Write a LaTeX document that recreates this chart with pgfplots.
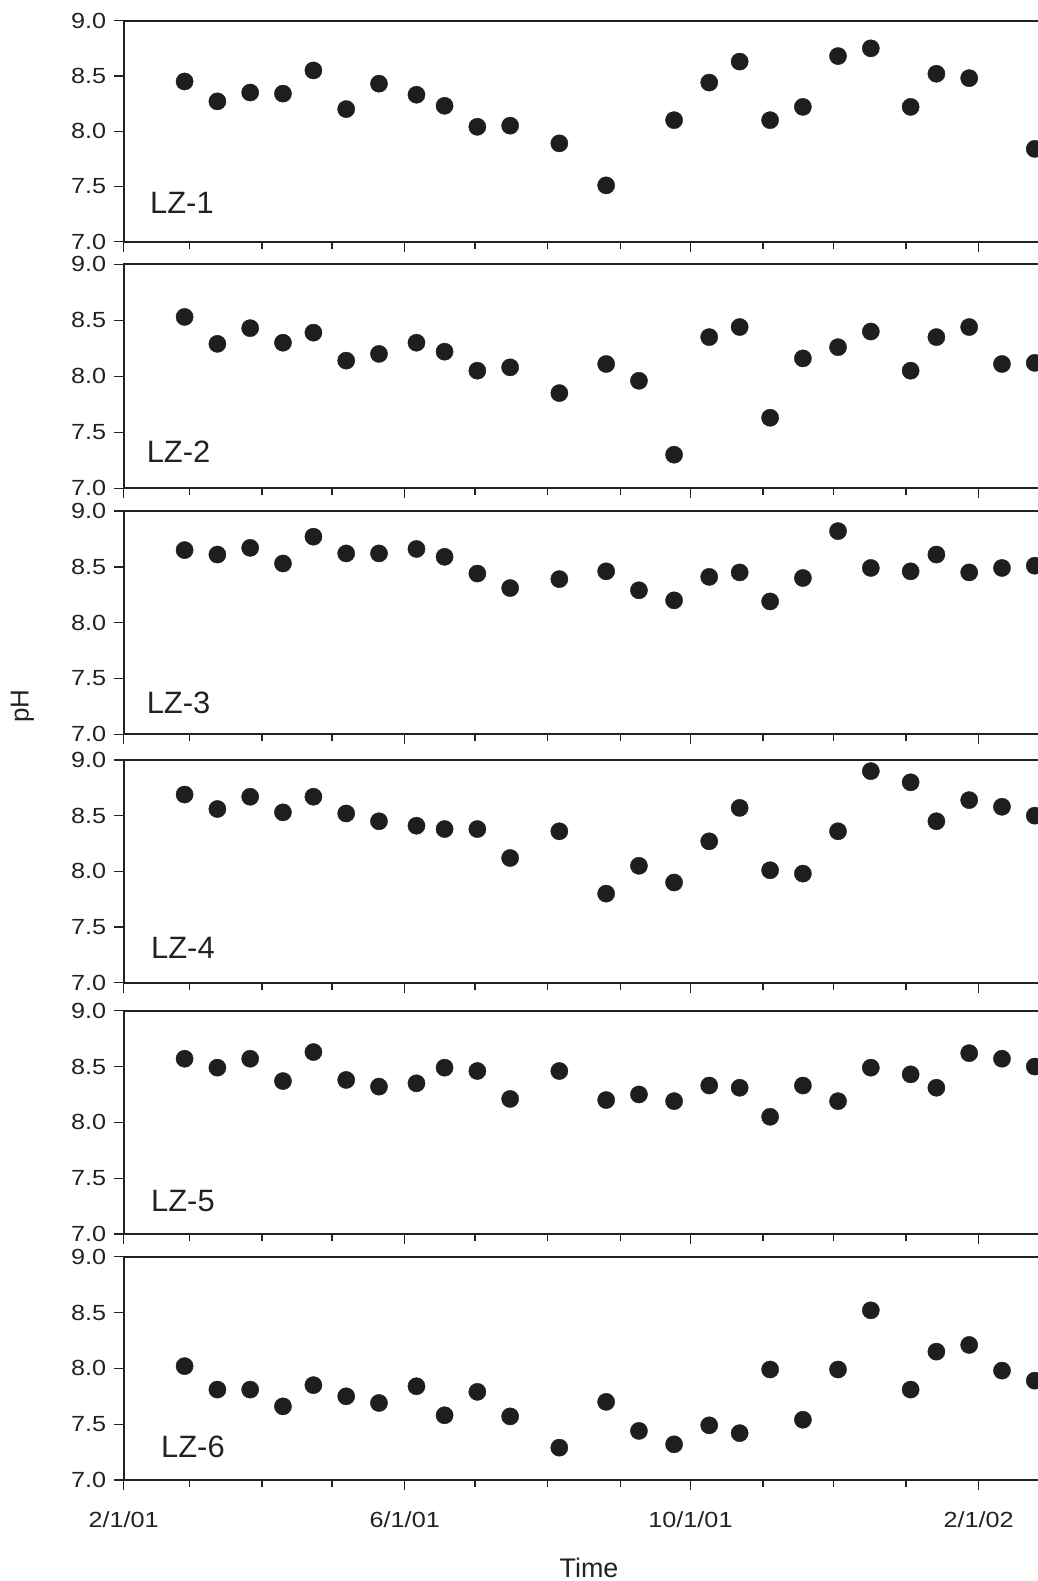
\documentclass[border=0pt]{standalone}
\usepackage{fontspec}
\setmainfont{Liberation Sans}
\newfontfamily\tickfont[FakeStretch=1.15]{Liberation Sans}
\usepackage{pgfplots}
\usepackage{pgfplotstable}
\pgfplotsset{compat=1.18}

% pH at the six sites; day = days since 2/1/01
\pgfplotstableread{
day lz1 lz2 lz3 lz4 lz5 lz6
26  8.45 8.53 8.65 8.69 8.57 8.02
40  8.27 8.29 8.61 8.56 8.49 7.81
54  8.35 8.43 8.67 8.67 8.57 7.81
68  8.34 8.30 8.53 8.53 8.37 7.66
81  8.55 8.39 8.77 8.67 8.63 7.85
95  8.20 8.14 8.62 8.52 8.38 7.75
109 8.43 8.20 8.62 8.45 8.32 7.69
125 8.33 8.30 8.66 8.41 8.35 7.84
137 8.23 8.22 8.59 8.38 8.49 7.58
151 8.04 8.05 8.44 8.38 8.46 7.79
165 8.05 8.08 8.31 8.12 8.21 7.57
186 7.89 7.85 8.39 8.36 8.46 7.29
206 7.51 8.11 8.46 7.80 8.20 7.70
220 nan  7.96 8.29 8.05 8.25 7.44
235 8.10 7.30 8.20 7.90 8.19 7.32
250 8.44 8.35 8.41 8.27 8.33 7.49
263 8.63 8.44 8.45 8.57 8.31 7.42
276 8.10 7.63 8.19 8.01 8.05 7.99
290 8.22 8.16 8.40 7.98 8.33 7.54
305 8.68 8.26 8.82 8.36 8.19 7.99
319 8.75 8.40 8.49 8.90 8.49 8.52
336 8.22 8.05 8.46 8.80 8.43 7.81
347 8.52 8.35 8.61 8.45 8.31 8.15
361 8.48 8.44 8.45 8.64 8.62 8.21
375 nan  8.11 8.49 8.58 8.57 7.98
389 7.84 8.12 8.51 8.50 8.50 7.89
}\phdata

\definecolor{dotcol}{HTML}{1E1E1E}
\definecolor{axcol}{HTML}{222222}

\pgfplotsset{
  panel/.style={
    scale only axis, anchor=south west, width=925.1bp,
    xmin=0, xmax=395, ymin=7, ymax=9,
    axis line style={line width=1.8bp, axcol},
    tick style={line width=1.4bp, axcol},
    tick align=outside, tick pos=left,
    major tick length=10bp, minor tick length=7bp,
    xtick={0,120,242,365},
    minor xtick={28,59,89,150,181,212,273,303,334},
    xticklabels={},
    ytick={7,7.5,8,8.5,9},
    yticklabels={7.0,7.5,8.0,8.5,9.0},
    ticklabel style={font=\tickfont\fontsize{22}{22}\selectfont, text=axcol},
    yticklabel style={xshift=-4bp},
  },
  phpts/.style={only marks, mark=*, mark size=8.6bp, color=dotcol,
    mark options={solid, draw=dotcol, fill=dotcol}},
}

\begin{document}
\begin{tikzpicture}[x=1bp,y=1bp]
\path[use as bounding box] (0,0) rectangle (1037,-1581);

\begin{axis}[panel, at={(123.7bp,-241.7bp)}, height=221bp]
\addplot[phpts] table[x=day, y=lz1]{\phdata};
\end{axis}
\begin{axis}[panel, at={(123.7bp,-488.3bp)}, height=224bp]
\addplot[phpts] table[x=day, y=lz2]{\phdata};
\end{axis}
\begin{axis}[panel, at={(123.7bp,-734.3bp)}, height=223.3bp]
\addplot[phpts] table[x=day, y=lz3]{\phdata};
\end{axis}
\begin{axis}[panel, at={(123.7bp,-982.7bp)}, height=222.7bp]
\addplot[phpts] table[x=day, y=lz4]{\phdata};
\end{axis}
\begin{axis}[panel, at={(123.7bp,-1234bp)}, height=223.3bp]
\addplot[phpts] table[x=day, y=lz5]{\phdata};
\end{axis}
\begin{axis}[panel, at={(123.7bp,-1480bp)}, height=223.3bp,
  xticklabels={2/1/01,6/1/01,10/1/01,2/1/02},
  xticklabel style={yshift=-18bp}]
\addplot[phpts] table[x=day, y=lz6]{\phdata};
\end{axis}

% site names
\begin{scope}[every node/.style={anchor=base west, inner sep=0pt,
    font=\fontsize{31}{31}\selectfont, text=axcol}]
\node at (150,-213) {LZ-1};
\node at (146.6,-462) {LZ-2};
\node at (146.6,-713) {LZ-3};
\node at (151,-958) {LZ-4};
\node at (151,-1211) {LZ-5};
\node at (161,-1457) {LZ-6};
\end{scope}

% axis titles
\node[anchor=base, inner sep=0pt, font=\fontsize{27}{27}\selectfont, text=axcol]
  at (589,-1577) {Time};
\node[rotate=90, anchor=base, inner sep=0pt, font=\fontsize{26}{26}\selectfont, text=axcol]
  at (28.6,-706) {pH};
\end{tikzpicture}
\end{document}
